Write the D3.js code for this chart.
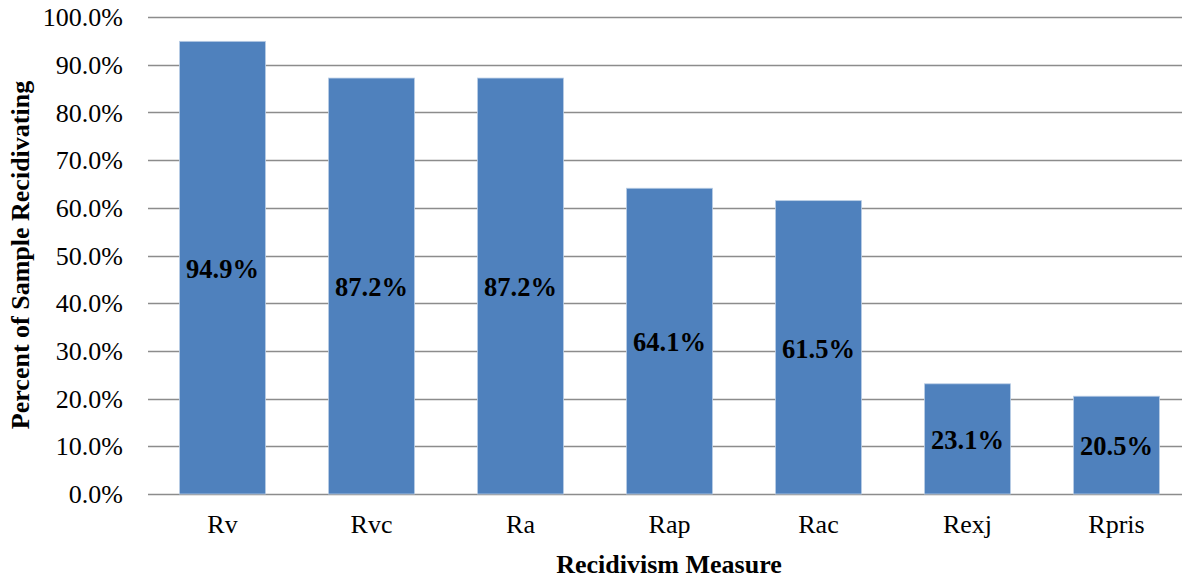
<!DOCTYPE html>
<html>
<head>
<meta charset="utf-8">
<script src="https://cdn.jsdelivr.net/npm/d3@7"></script>
<style>
  html, body { margin: 0; padding: 0; background: #fff; }
  svg { display: block; }
</style>
</head>
<body>
<div id="chart"></div>
<script>
/* Recidivism measures — percent of sample recidivating */

const measures = ['Rv', 'Rvc', 'Ra', 'Rap', 'Rac', 'Rexj', 'Rpris'];
const pctValues = [94.9, 87.2, 87.2, 64.1, 61.5, 23.1, 20.5];
const yTicks = [0, 10, 20, 30, 40, 50, 60, 70, 80, 90, 100];

const W = 1182, H = 578;
const FONT = "'Liberation Serif', 'Times New Roman', serif";

const x = d3.scaleBand()
  .domain(measures)
  .range([148, 1191])
  .paddingInner(0.423)
  .paddingOuter(0.2115);

const y = d3.scaleLinear()
  .domain([0, 100])
  .range([494, 17]);

const svg = d3.select('#chart')
  .append('svg')
  .attr('width', W)
  .attr('height', H);

/* ── Gridlines ── */
svg.append('g').selectAll('line')
  .data(yTicks)
  .join('line')
  .attr('x1', 148).attr('x2', W)
  .attr('y1', d => Math.round(y(d)) + 0.5)
  .attr('y2', d => Math.round(y(d)) + 0.5)
  .attr('stroke', '#8c8c8c')
  .attr('stroke-width', 1.6);

/* ── Y tick labels ── */
svg.append('g').selectAll('text')
  .data(yTicks)
  .join('text')
  .attr('x', 123)
  .attr('y', d => y(d))
  .attr('dy', '0.35em')
  .attr('text-anchor', 'end')
  .attr('font-family', FONT)
  .attr('font-size', '26px')
  .attr('fill', '#000')
  .text(d => d.toFixed(1) + '%');

/* ── Bars ── */
svg.append('g').selectAll('rect')
  .data(pctValues)
  .join('rect')
  .attr('x', (d, i) => x(measures[i]))
  .attr('y', d => y(d))
  .attr('width', x.bandwidth())
  .attr('height', d => y(0) - y(d))
  .attr('fill', '#4f81bd')
  .attr('stroke', '#b9cde5')
  .attr('stroke-width', 0.8);

/* ── Value labels (centred in bar) ── */
svg.append('g').selectAll('text')
  .data(pctValues)
  .join('text')
  .attr('x', (d, i) => x(measures[i]) + x.bandwidth() / 2)
  .attr('y', d => (y(d) + y(0)) / 2 + 1)
  .attr('dy', '0.35em')
  .attr('text-anchor', 'middle')
  .attr('font-family', FONT)
  .attr('font-weight', 'bold')
  .attr('font-size', '26.5px')
  .attr('fill', '#000')
  .text(d => d.toFixed(1) + '%');

/* ── Category labels ── */
svg.append('g').selectAll('text')
  .data(measures)
  .join('text')
  .attr('x', d => x(d) + x.bandwidth() / 2)
  .attr('y', 524)
  .attr('dy', '0.35em')
  .attr('text-anchor', 'middle')
  .attr('font-family', FONT)
  .attr('font-size', '26px')
  .attr('fill', '#000')
  .text(d => d);

/* ── Axis titles ── */
svg.append('text')
  .attr('x', 669).attr('y', 564)
  .attr('dy', '0.35em')
  .attr('text-anchor', 'middle')
  .attr('font-family', FONT)
  .attr('font-weight', 'bold')
  .attr('font-size', '26px')
  .text('Recidivism Measure');

svg.append('text')
  .attr('transform', 'translate(20,255) rotate(-90)')
  .attr('dy', '0.35em')
  .attr('text-anchor', 'middle')
  .attr('font-family', FONT)
  .attr('font-weight', 'bold')
  .attr('font-size', '26px')
  .text('Percent of Sample Recidivating');
</script>
</body>
</html>
